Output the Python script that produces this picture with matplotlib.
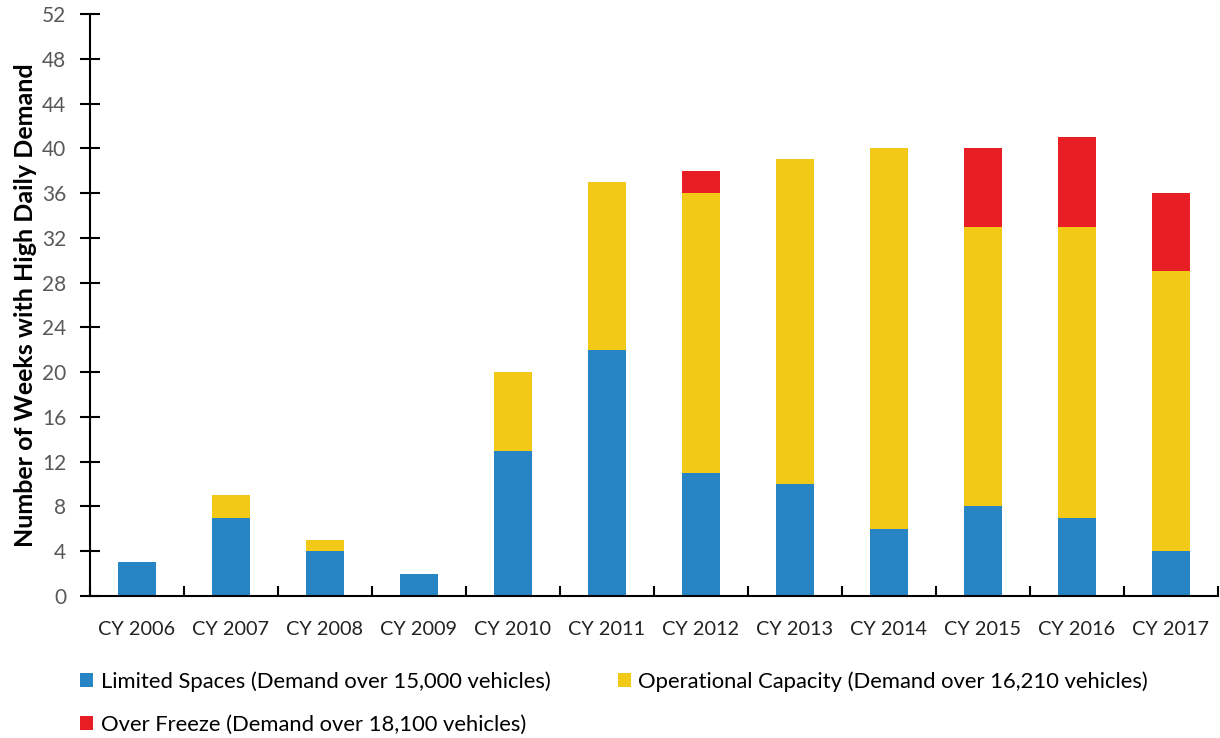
import matplotlib
matplotlib.use("Agg")
import matplotlib.pyplot as plt
import numpy as np

plt.rcParams['font.family'] = ['Lato', 'DejaVu Sans']

years = ["CY 2006", "CY 2007", "CY 2008", "CY 2009", "CY 2010", "CY 2011",
         "CY 2012", "CY 2013", "CY 2014", "CY 2015", "CY 2016", "CY 2017"]
limited_spaces = [3, 7, 4, 2, 13, 22, 11, 10, 6, 8, 7, 4]
operational_capacity = [0, 2, 1, 0, 7, 15, 25, 29, 34, 25, 26, 25]
over_freeze = [0, 0, 0, 0, 0, 0, 2, 0, 0, 7, 8, 7]
y_ticks = list(range(0, 53, 4))

labels = ["Limited Spaces (Demand over 15,000 vehicles)",
          "Operational Capacity (Demand over 16,210 vehicles)",
          "Over Freeze (Demand over 18,100 vehicles)"]
colors = ["#2784C5", "#F3C917", "#E81E25"]

W, H = 1220, 738
fig = plt.figure(figsize=(W / 100, H / 100), dpi=100)
ax = fig.add_axes([90 / W, 1 - 596 / H, (1218 - 90) / W, (596 - 14) / H])

x = np.arange(len(years))
lim = np.array(limited_spaces)
ops = np.array(operational_capacity)
frz = np.array(over_freeze)
width = 0.4
b1 = ax.bar(x, lim, width, color=colors[0], label=labels[0])
b2 = ax.bar(x, ops, width, bottom=lim, color=colors[1], label=labels[1])
b3 = ax.bar(x, frz, width, bottom=lim + ops, color=colors[2], label=labels[2])

ax.set_xlim(-0.5, len(years) - 0.5)
ax.set_ylim(0, 52)
ax.set_yticks(y_ticks)
ax.set_xticks(x)
ax.set_xticklabels(years)
ax.set_xticks(np.arange(len(years) + 1) - 0.5, minor=True)

for s in ["top", "right"]:
    ax.spines[s].set_visible(False)
ax.spines["left"].set_linewidth(1.5)
ax.spines["bottom"].set_linewidth(1.5)

ax.tick_params(axis="y", direction="inout", length=14, width=1.5,
               labelsize=15, labelcolor="#595959", pad=10)
ax.tick_params(axis="x", which="major", length=0, labelsize=14.3,
               labelcolor="#222222", pad=18)
ax.tick_params(axis="x", which="minor", direction="in", length=7, width=1.5)

ax.set_ylabel("Number of Weeks with High Daily Demand", fontsize=18,
              fontweight="bold", labelpad=4)

handles = [b1, b3, b2]
hl = [labels[0], labels[2], labels[1]]
fig.legend(handles, hl, loc="upper left", bbox_to_anchor=(80 / W, 1 - 671 / H),
           ncol=2, frameon=False, fontsize=15.8, handlelength=0.6,
           handleheight=0.6, handletextpad=0.35, columnspacing=3.05,
           labelspacing=1.05, borderaxespad=0, borderpad=0)

fig.savefig("out.png", dpi=100)
